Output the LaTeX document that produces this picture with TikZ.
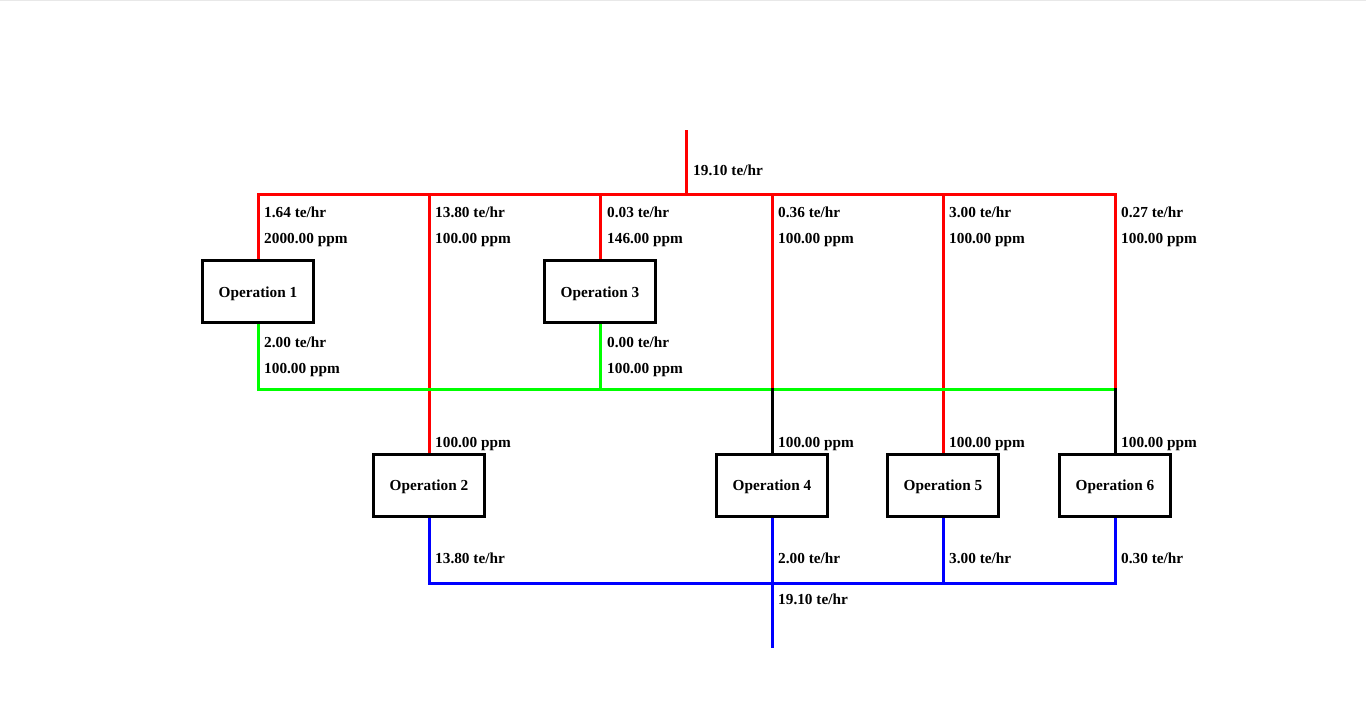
\documentclass[tikz,border=0pt]{standalone}
\usepackage{fontspec}
\setmainfont{Liberation Serif}
\usetikzlibrary{backgrounds}
\begin{document}
\begin{tikzpicture}[x=1pt,y=-1pt,
  op/.style={draw=black, line width=3pt, minimum width=111pt, minimum height=62pt,
    inner sep=0pt, text depth=0pt, font=\fontsize{15.3}{18}\selectfont\bfseries},
  lbl/.style={anchor=base west, inner sep=0pt, font=\fontsize{15.3}{18}\selectfont\bfseries},
  pipe/.style={line width=3pt, line cap=rect},
  rp/.style={pipe, draw={rgb,255:red,255;green,0;blue,0}},
  gp/.style={pipe, draw={rgb,255:red,0;green,255;blue,0}},
  bp/.style={pipe, draw={rgb,255:red,0;green,0;blue,255}},
  kp/.style={pipe, draw=black}]
\useasboundingbox (0,0) rectangle (1366,727);

% operations
\node[op] (op1) at (258,292) {Operation 1};
\node[op] (op3) at (600,292) {Operation 3};
\node[op] (op2) at (429,485.5) {Operation 2};
\node[op] (op4) at (772,485.5) {Operation 4};
\node[op] (op5) at (943,485.5) {Operation 5};
\node[op] (op6) at (1115,485.5) {Operation 6};

% junction coordinates
\coordinate (fin) at (686,132);
\coordinate (fj) at (686,195);
\coordinate (r1) at (258,195);
\coordinate (r2) at (429,195);
\coordinate (r3) at (600,195);
\coordinate (r4) at (772,195);
\coordinate (r5) at (943,195);
\coordinate (r6) at (1115,195);
\coordinate (g1) at (258,389);
\coordinate (g3) at (600,389);
\coordinate (g4) at (772,389);
\coordinate (g6) at (1115,389);
\coordinate (b2) at (429,583);
\coordinate (b4) at (772,583);
\coordinate (b5) at (943,583);
\coordinate (b6) at (1115,583);
\coordinate (bout) at (772,646.5);

\begin{scope}[on background layer]
  \fill[white] (0,0) rectangle (1366,727);
  \fill[gray!18] (0,0) rectangle (1366,1.5);
  % fresh water
  \draw[rp] (fin) -- (fj);
  \draw[rp] (r1) -- (r6);
  \draw[rp] (r1) -- (op1);
  \draw[rp] (r3) -- (op3);
  \draw[rp] (r2) -- (op2);
  \draw[rp] (r4) -- (g4);
  \draw[rp] (r5) -- (op5);
  \draw[rp] (r6) -- (g6);
  % reuse
  \draw[gp] (op1) -- (g1);
  \draw[gp] (op3) -- (g3);
  \draw[gp] (g1) -- (g6);
  \draw[kp] (g4) -- (op4);
  \draw[kp] (g6) -- (op6);
  % effluent
  \draw[bp] (op2) -- (b2);
  \draw[bp] (op4) -- (b4);
  \draw[bp] (op5) -- (b5);
  \draw[bp] (op6) -- (b6);
  \draw[bp] (b2) -- (b6);
  \draw[bp] (b4) -- (bout);
\end{scope}

% labels
\node[lbl] (lf) at (693,175.5) {19.10 te/hr};

\node[lbl] (l1a) at (264,218) {1.64 te/hr};
\node[lbl] (l1b) at (264,244) {2000.00 ppm};
\node[lbl] (l2a) at (435,218) {13.80 te/hr};
\node[lbl] (l2b) at (435,244) {100.00 ppm};
\node[lbl] (l3a) at (607,218) {0.03 te/hr};
\node[lbl] (l3b) at (607,244) {146.00 ppm};
\node[lbl] (l4a) at (778,218) {0.36 te/hr};
\node[lbl] (l4b) at (778,244) {100.00 ppm};
\node[lbl] (l5a) at (949,218) {3.00 te/hr};
\node[lbl] (l5b) at (949,244) {100.00 ppm};
\node[lbl] (l6a) at (1121,218) {0.27 te/hr};
\node[lbl] (l6b) at (1121,244) {100.00 ppm};

\node[lbl] (o1a) at (264,347.5) {2.00 te/hr};
\node[lbl] (o1b) at (264,373.5) {100.00 ppm};
\node[lbl] (o3a) at (607,347.5) {0.00 te/hr};
\node[lbl] (o3b) at (607,373.5) {100.00 ppm};

\node[lbl] (i2) at (435,447.5) {100.00 ppm};
\node[lbl] (i4) at (778,447.5) {100.00 ppm};
\node[lbl] (i5) at (949,447.5) {100.00 ppm};
\node[lbl] (i6) at (1121,447.5) {100.00 ppm};

\node[lbl] (e2) at (435,563.5) {13.80 te/hr};
\node[lbl] (e4) at (778,563.5) {2.00 te/hr};
\node[lbl] (e5) at (949,563.5) {3.00 te/hr};
\node[lbl] (e6) at (1121,563.5) {0.30 te/hr};
\node[lbl] (eo) at (778,604.5) {19.10 te/hr};
\end{tikzpicture}
\end{document}
